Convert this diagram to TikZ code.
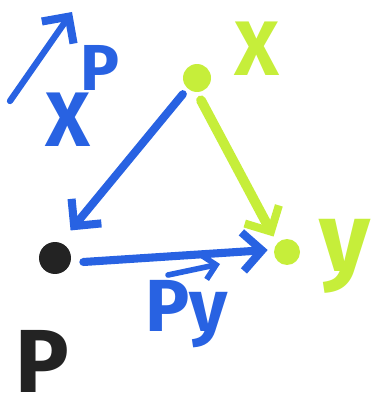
\documentclass[tikz,border=0pt]{standalone}
\usepackage{fontspec}
\setmainfont{Fira Sans}
\usepackage{tikz}
\usetikzlibrary{arrows.meta}
\usetikzlibrary{positioning}

\definecolor{penblue}{RGB}{40,98,226}
\definecolor{pengreen}{RGB}{198,238,58}
\definecolor{penblack}{RGB}{35,35,35}

\tikzset{
  pen/.style={line width=4.6pt, line cap=round, line join=round,
    -{Straight Barb[length=11pt,width=22pt,line width=4.6pt]}},
  dot/.style={circle, fill, inner sep=0pt, minimum size=0.56cm},
  lbl/.style={font=\fontsize{44}{44}\selectfont\bfseries, inner sep=0pt}
}

\begin{document}
\begin{tikzpicture}[x=0.02cm,y=-0.02cm]
\useasboundingbox (0,0) rectangle (374,415);

\node[dot, pengreen] (x) at (197,78) {};
\node[dot, pengreen, minimum size=0.52cm] (y) at (287,252) {};
\node[dot, penblack, minimum size=0.64cm] (p) at (55,258) {};

\node[lbl, pengreen] (xl) at (257,49) {X};
\node[lbl, pengreen, font=\fontsize{56}{56}\selectfont\bfseries] (yl) at (345,256) {y};
\node[lbl, penblack, font=\fontsize{51}{51}\selectfont\bfseries] (pl) at (42,361) {P};

\node[lbl, penblue] (xpx) at (68,120) {X};
\node[lbl, penblue, font=\fontsize{37}{37}\selectfont\bfseries] (xpp) at (100,68) {P};
\coordinate (xpa) at (10,101);
\coordinate (xpb) at (72,12);
\draw[pen, penblue, line width=3.6pt] (xpa) -- (xpb);

\node[lbl, penblue, font=\fontsize{42}{42}\selectfont\bfseries] (py) at (187,314) {Py};
\coordinate (pya) at (168,275);
\coordinate (pyb) at (220,264);
\draw[pen, penblue, line width=3.2pt,
  -{Straight Barb[length=7pt,width=14pt,line width=3.2pt]}] (pya) -- (pyb);

\draw[pen, penblue] ([shift={(-4,6)}]x.south west) -- ([shift={(4,-16)}]p.north east);
\draw[pen, pengreen, line width=5.6pt] ([shift={(4,8)}]x.south) -- ([shift={(-4,-6)}]y.north west);
\draw[pen, penblue] ([shift={(12,4)}]p.east) -- ([shift={(-6,-2)}]y.west);
\end{tikzpicture}
\end{document}
